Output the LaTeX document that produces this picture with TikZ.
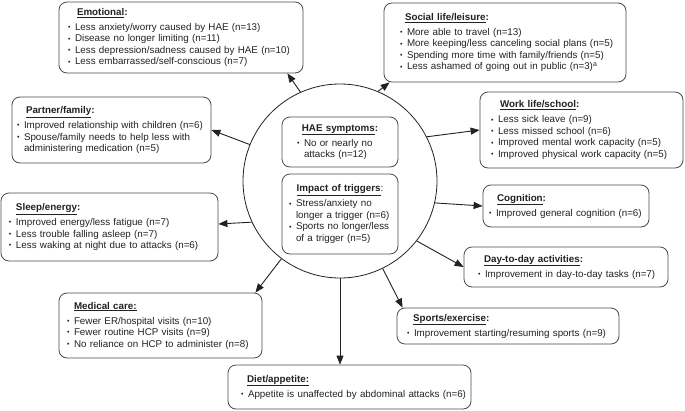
\documentclass[tikz,border=0pt]{standalone}
\usepackage{fontspec}
\setmainfont{Liberation Sans}
\usetikzlibrary{arrows.meta}
\definecolor{ink}{HTML}{222222}
\definecolor{edgec}{HTML}{4A4A4A}
\newcommand{\bul}{\makebox[7pt][l]{\raisebox{0.6pt}{\fontsize{7}{7}\selectfont •}}}
\newcommand{\bl}[1]{\mbox{\bul#1}}
\newcommand{\cl}[1]{\mbox{\hspace*{7pt}#1}}
\newcommand{\ttl}[3]{\mbox{\hspace*{#1}\textbf{\underline{#2}#3}}}
\newcommand{\cttl}[2]{\hbox to \hsize{\hss\textbf{\underline{#1}#2}\hss}}
\tikzset{
  box/.style={draw=edgec, line width=0.8pt, rounded corners=8pt, align=left,
    font=\fontsize{9.8}{11.5}\selectfont, text=ink, inner ysep=0pt},
  arr/.style={draw=ink, line width=0.9pt, -{Triangle[length=9pt,width=7pt]}}
}
\begin{document}
\begin{tikzpicture}[x=1pt,y=-1pt]
\useasboundingbox[fill=white] (0,0) rectangle (685,410);

\node[circle, draw=ink, line width=0.8pt, minimum size=194pt, inner sep=0pt] (hub) at (340,181) {};

\node[box, inner xsep=15pt, text width=86pt, minimum width=116pt, minimum height=50pt] (hae) at (340,142)
 {\cttl{HAE symptoms}{:}\\[3.5pt]\bl{No or nearly no}\\\cl{attacks (n=12)}};
\node[box, inner xsep=7pt, text width=102pt, minimum width=116pt, minimum height=80pt] (imp) at (340,214)
 {\cttl{Impact of triggers}{\normalfont :}\\[3.5pt]\bl{Stress/anxiety no}\\\cl{longer a trigger (n=6)}\\\bl{Sports no longer/less}\\\cl{of a trigger (n=5)}};

\node[box, inner xsep=9pt, text width=226pt, minimum width=244pt, minimum height=71pt] (emo) at (181,37.5)
 {\ttl{9pt}{Emotional}{:}\\[3.5pt]\bl{Less anxiety/worry caused by HAE (n=13)}\\\bl{Disease no longer limiting (n=11)}\\\bl{Less depression/sadness caused by HAE (n=10)}\\\bl{Less embarrassed/self-conscious (n=7)}};

\node[box, inner xsep=16pt, text width=210pt, minimum width=242pt, minimum height=79pt] (soc) at (505,42.5)
 {\ttl{5pt}{Social life/leisure}{:}\\[3.5pt]\bl{More able to travel (n=13)}\\\bl{More keeping/less canceling social plans (n=5)}\\\bl{Spending more time with family/friends (n=5)}\\\bl{Less ashamed of going out in public (n=3)\textsuperscript{a}}};

\node[box, inner xsep=5pt, text width=189pt, minimum width=199pt, minimum height=66pt] (par) at (111.5,130)
 {\ttl{9pt}{Partner/family}{:}\\[3.5pt]\bl{Improved relationship with children (n=6)}\\\bl{Spouse/family needs to help less with}\\\cl{administering medication (n=5)}};

\node[box, inner xsep=11pt, text width=181pt, minimum width=203pt, minimum height=76pt] (work) at (581.5,130)
 {\ttl{9pt}{Work life/school}{:}\\[3.5pt]\bl{Less sick leave (n=9)}\\\bl{Less missed school (n=6)}\\\bl{Improved mental work capacity (n=5)}\\\bl{Improved physical work capacity (n=5)}};

\node[box, inner xsep=6pt, text width=154pt, minimum width=166pt, minimum height=42pt] (cog) at (566,206)
 {\ttl{8pt}{Cognition}{:}\\[3.5pt]\bl{Improved general cognition (n=6)}};

\node[box, inner xsep=14pt, text width=176pt, minimum width=204pt, minimum height=40pt] (day) at (566,267)
 {\ttl{6pt}{Day-to-day activities}{:}\\[3.5pt]\bl{Improvement in day-to-day tasks (n=7)}};

\node[box, inner xsep=8pt, text width=201pt, minimum width=217pt, minimum height=68pt] (sleep) at (109.5,227)
 {\ttl{7pt}{Sleep/energy}{:}\\[3.5pt]\bl{Improved energy/less fatigue (n=7)}\\\bl{Less trouble falling asleep (n=7)}\\\bl{Less waking at night due to attacks (n=6)}};

\node[box, inner xsep=8pt, text width=187pt, minimum width=203pt, minimum height=65pt] (med) at (160.5,325.5)
 {\ttl{7pt}{Medical care:}{}\\[3.5pt]\bl{Fewer ER/hospital visits (n=10)}\\\bl{Fewer routine HCP visits (n=9)}\\\bl{No reliance on HCP to administer (n=8)}};

\node[box, inner xsep=10pt, text width=202pt, minimum width=222pt, minimum height=36pt] (spo) at (508,326)
 {\ttl{6pt}{Sports/exercise}{:}\\[3.5pt]\bl{Improvement starting/resuming sports (n=9)}};

\node[box, inner xsep=13pt, text width=217pt, minimum width=243pt, minimum height=44pt] (diet) at (349.5,387)
 {\ttl{6pt}{Diet/appetite:}{}\\[3.5pt]\bl{Appetite is unaffected by abdominal attacks (n=6)}};

\draw[arr] (hub.114) -- ([xshift=-16pt]emo.south east);
\draw[arr] (hub.67) -- ([xshift=6pt]soc.south west);
\draw[arr] (hub.158) -- (par.east);
\draw[arr] (hub.27) -- (work.west);
\draw[arr] (hub.205.6) -- ([yshift=3pt]sleep.east);
\draw[arr] (hub.-13) -- (cog.west);
\draw[arr] (hub.-38) -- (day.west);
\draw[arr] (hub.233.5) -- ([xshift=-7pt]med.north east);
\draw[arr] (hub.-64) -- ([xshift=6pt]spo.north west);
\draw[arr] (hub.south) -- (hub.south |- diet.north);
\end{tikzpicture}
\end{document}
